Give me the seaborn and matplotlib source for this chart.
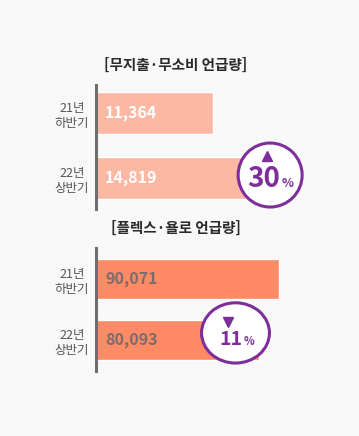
import seaborn as sns
import matplotlib.pyplot as plt
from matplotlib.patches import Ellipse

# 데이터
periods = ["21년\n하반기", "22년\n상반기"]
nospend_counts = [11364, 14819]
flex_counts = [90071, 80093]
titles = ["[무지출·무소비 언급량]", "[플렉스·욜로 언급량]"]
change_pct = ["30", "11"]
change_dir = ["^", "v"]

sns.set_theme(style="white")
plt.rcParams["font.family"] = ["Noto Sans CJK KR", "DejaVu Sans"]

bg = "#f8f8f8"
purple = "#7d2e9a"
fig = plt.figure(figsize=(3.59, 4.36), dpi=100, facecolor=bg)

# 패널 위치 (figure 좌표)
panels = [
    dict(rect=[0.2674, 0.5206, 0.652, 0.2844], vals=nospend_counts, color="#fdb8a4",
         txt="white", xmax=22700, ylim=(1.477, -0.431), width=0.646, title_y=0.851,
         circ=(0.744, 0.274, 0.2735, 0.516), tri=(0.731, 0.425), num=(0.786, 0.177),
         num_size=20, pct_size=9),
    dict(rect=[0.2674, 0.149, 0.652, 0.282], vals=flex_counts, color="#ff8a66",
         txt="#7a6c6a", xmax=115000, ylim=(1.508, -0.508), width=0.67, title_y=0.477,
         circ=(0.596, 0.31, 0.29, 0.49), tri=(0.564, 0.395), num=(0.624, 0.211),
         num_size=14, pct_size=8),
]

for i, p in enumerate(panels):
    ax = fig.add_axes(p["rect"])
    ax.set_facecolor(bg)
    sns.barplot(x=p["vals"], y=periods, orient="h", color=p["color"],
                width=p["width"], saturation=1, ax=ax)
    ax.set_xlim(0, p["xmax"])
    ax.set_ylim(*p["ylim"])
    for s in ["top", "right", "bottom"]:
        ax.spines[s].set_visible(False)
    ax.spines["left"].set_color("#6e6e6e")
    ax.spines["left"].set_linewidth(2.2)
    ax.set_xticks([])
    ax.set_xlabel("")
    ax.set_ylabel("")
    ax.tick_params(axis="y", length=0, pad=5, labelsize=9, labelcolor="#555555")
    for lab in ax.get_yticklabels():
        lab.set_multialignment("center")
        lab.set_linespacing(1.25)

    # 막대 안 수치
    for j, v in enumerate(p["vals"]):
        ax.annotate(f"{v:,}", xy=(0, j), xytext=(6.5, 0), textcoords="offset points",
                    va="center", ha="left", fontsize=11.5, fontweight="bold",
                    color=p["txt"])

    # 증감 원
    cx, cy, w, h = p["circ"]
    ax.add_patch(Ellipse((cx, cy), w, h, transform=ax.transAxes, facecolor="white",
                         edgecolor=purple, linewidth=2.2, zorder=5, clip_on=False))
    ax.plot(*p["tri"], marker=change_dir[i], color=purple, markersize=6.5,
            transform=ax.transAxes, zorder=6, clip_on=False)
    nx, ny = p["num"]
    ax.text(nx, ny, change_pct[i], transform=ax.transAxes, ha="right", va="baseline",
            fontsize=p["num_size"], fontweight="bold", color=purple, zorder=6)
    ax.text(nx + 0.005, ny, "%", transform=ax.transAxes, ha="left", va="baseline",
            fontsize=p["pct_size"], fontweight="bold", color=purple, zorder=6)

    fig.text(0.49, p["title_y"], titles[i], ha="center", va="center",
             fontsize=10.5, fontweight="bold", color="#2a2a2a")

plt.savefig("out.png", dpi=100, facecolor=bg)
plt.close()
